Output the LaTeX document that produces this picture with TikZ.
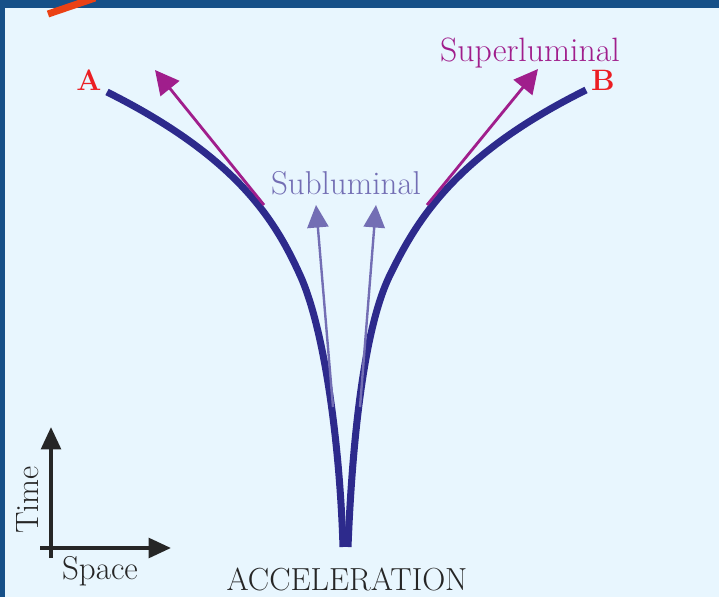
\documentclass[tikz,border=0pt]{standalone}
\usepackage{tikz}
\usetikzlibrary{arrows.meta}
\definecolor{framedark}{RGB}{22,80,136}
\definecolor{framebg}{RGB}{232,246,254}
\definecolor{worldline}{RGB}{45,42,140}
\definecolor{superpink}{RGB}{160,30,140}
\definecolor{subpurple}{RGB}{115,110,180}
\definecolor{labelred}{RGB}{235,30,35}
\definecolor{accentred}{RGB}{235,65,20}

\begin{document}
\begin{tikzpicture}[x=0.025cm, y=-0.025cm,
    world/.style={line width=5pt, color=worldline, line cap=butt},
    super/.style={-{Triangle[length=17pt, width=17pt]}, line width=2pt, color=superpink},
    sub/.style={-{Triangle[length=16pt, width=15pt]}, line width=1.7pt, color=subpurple},
    axis/.style={-{Triangle[length=16pt, width=14pt]}, line width=2.8pt, color=black!85},
    lbl/.style={inner sep=0pt, anchor=base, font=\fontsize{24}{28}\selectfont},
    endlbl/.style={inner sep=0pt, anchor=base, text=labelred, font=\fontsize{21}{24}\selectfont\bfseries},
]
    % frame
    \clip (0,0) rectangle (719,597);
    \fill[framebg] (0,0) rectangle (719,597);
    \fill[framedark] (0,0) rectangle (719,8);
    \fill[framedark] (0,0) rectangle (5,597);
    \draw[accentred, line width=5pt] (48,14) -- (95,-2);

    % world lines
    \coordinate (endA) at (107,92);
    \coordinate (endB) at (586,90);
    \draw[world] (endA) .. controls (237,157) and (275,220) .. (300,275)
        .. controls (325,330) and (340,447) .. (343,547);
    \draw[world] (endB) .. controls (455,155) and (417,220) .. (390,275)
        .. controls (363,330) and (352,447) .. (348,547);

    % velocity arrows
    \coordinate (supL0) at (264,205);
    \coordinate (supL1) at (155,70);
    \coordinate (supR0) at (427,205);
    \coordinate (supR1) at (538,69);
    \coordinate (subL0) at (333,407);
    \coordinate (subL1) at (316,205);
    \coordinate (subR0) at (360,407);
    \coordinate (subR1) at (376,205);
    \draw[super] (supL0) -- (supL1);
    \draw[super] (supR0) -- (supR1);
    \draw[sub] (subL0) -- (subL1);
    \draw[sub] (subR0) -- (subR1);

    % labels
    \node[endlbl] (labA) at (89,91) {A};
    \node[endlbl] (labB) at (603,91) {B};
    \node[lbl, text=superpink] (superlbl) at (530,62) {Superluminal};
    \node[lbl, text=subpurple, font=\fontsize{23.5}{28}\selectfont] (sublbl) at (346,195) {Subluminal};
    \node[lbl, text=black!85, font=\fontsize{22.7}{26}\selectfont] (acc) at (347,590) {ACCELERATION};

    % axes
    \coordinate (tUp) at (51,427);
    \coordinate (sRight) at (171,548);
    \draw[axis] (51,558) -- (tUp);
    \draw[axis] (40,548) -- (sRight);
    \node[lbl, text=black!85, font=\fontsize{23.5}{26}\selectfont] (space) at (100,579) {Space};
    \node[lbl, text=black!85, font=\fontsize{23}{26}\selectfont, rotate=90] (time) at (38,500) {Time};
\end{tikzpicture}
\end{document}
